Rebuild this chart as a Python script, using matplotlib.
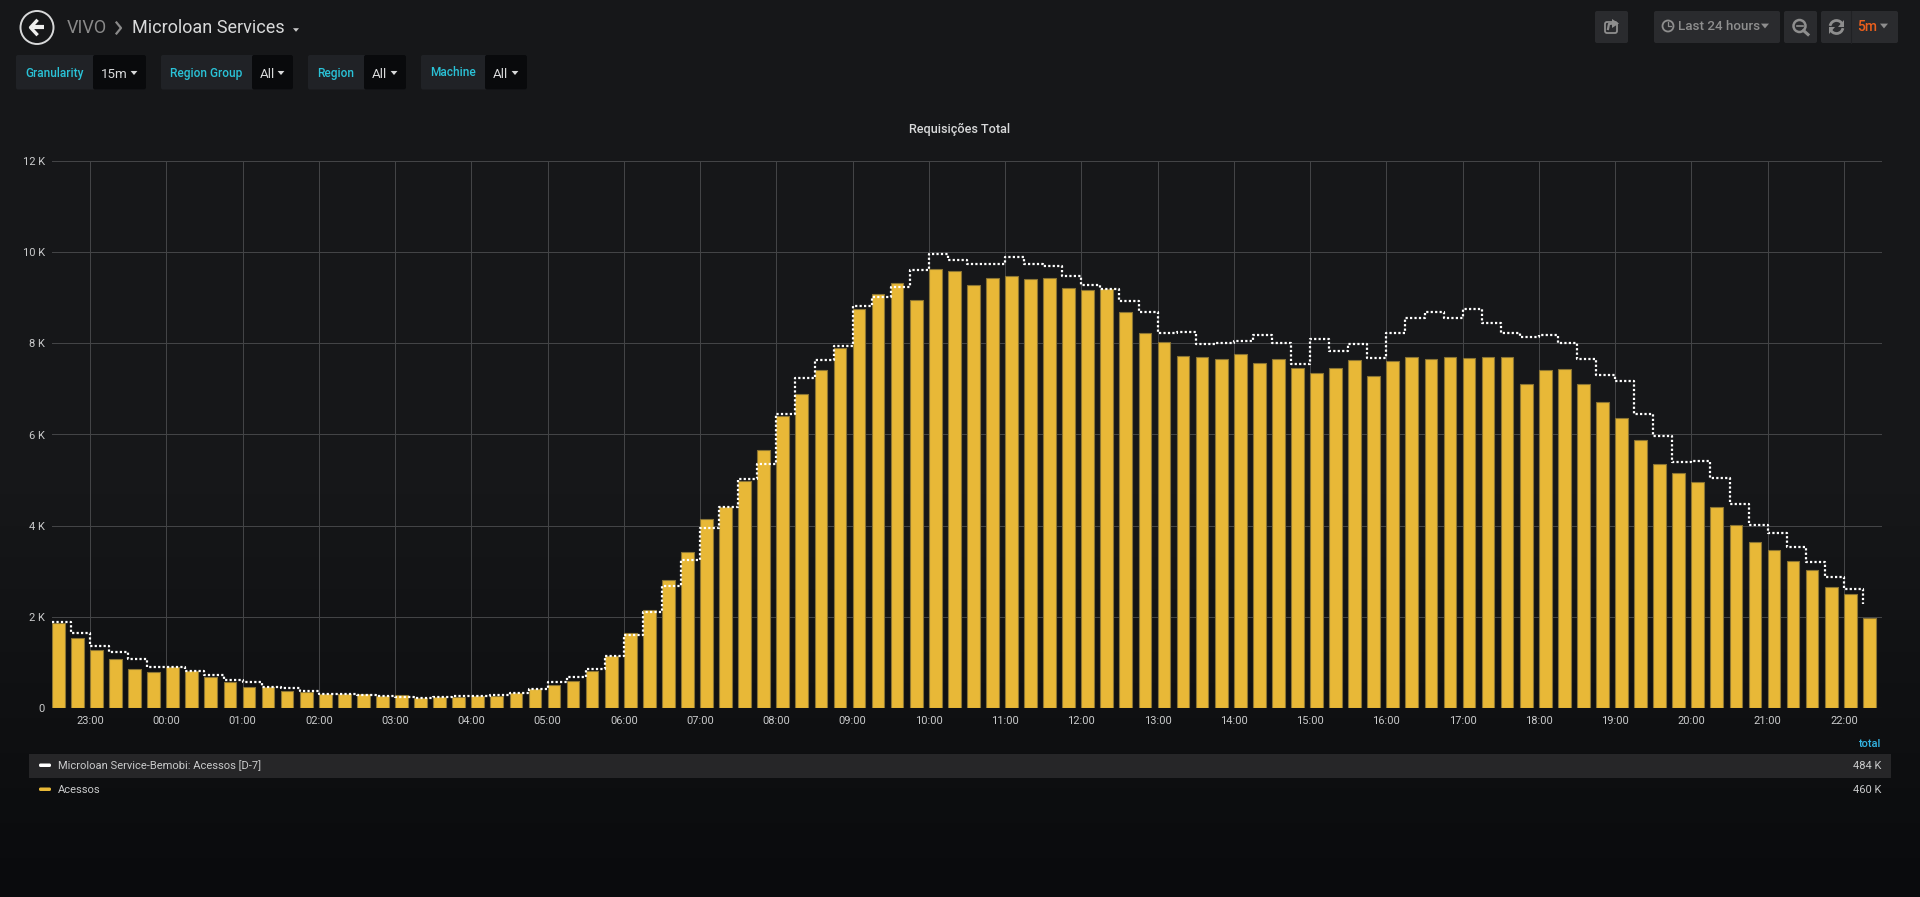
import matplotlib
matplotlib.use('Agg')
import matplotlib.pyplot as plt
import matplotlib.dates as mdates
import numpy as np
import pandas as pd
from matplotlib.colors import LinearSegmentedColormap
from matplotlib.patches import Arc, Circle, FancyBboxPatch, Polygon, Rectangle
from matplotlib.ticker import FuncFormatter

plt.rcParams['font.family'] = ['Roboto', 'DejaVu Sans']

W, H = 1920, 897

# 15 min buckets
start_time = '2019-01-01 22:30'
acessos = [
    1868, 1538, 1282, 1084, 864, 784, 901, 806, 681, 564,
    461, 461, 381, 344, 315, 315, 308, 271, 286, 227,
    234, 234, 256, 271, 322, 410, 513, 601, 813, 1150,
    1645, 2146, 2806, 3421, 4154, 4418, 4974, 5655, 6403, 6886,
    7414, 7905, 8762, 9077, 9319, 8945, 9634, 9582, 9282, 9436,
    9487, 9414, 9428, 9216, 9172, 9194, 8696, 8227, 8022, 7722,
    7707, 7648, 7758, 7560, 7650, 7451, 7341, 7458, 7626, 7289,
    7612, 7692, 7663, 7692, 7678, 7692, 7692, 7106, 7407, 7429,
    7106, 6703, 6359, 5890, 5363, 5150, 4952, 4400, 4015, 3641,
    3465, 3216, 3026, 2659, 2491, 1978,
]
acessos_d7 = [
    1890, 1648, 1370, 1223, 1077, 901, 908, 820, 725, 623,
    564, 454, 447, 381, 308, 308, 278, 264, 234, 220,
    249, 264, 271, 286, 337, 425, 571, 689, 857, 1150,
    1597, 2103, 2667, 3238, 3941, 4410, 5018, 5348, 6447, 7231,
    7641, 7934, 8820, 9026, 9245, 9604, 9956, 9831, 9736, 9743,
    9883, 9751, 9700, 9487, 9289, 9201, 8923, 8681, 8227, 8242,
    7985, 8000, 8059, 8183, 8000, 7546, 8095, 7839, 7978, 7678,
    8227, 8557, 8696, 8564, 8755, 8440, 8220, 8132, 8183, 8015,
    7663, 7311, 7165, 6447, 5978, 5407, 5414, 5048, 4465, 4015,
    3832, 3524, 3201, 2879, 2601, 2271,
]
y_ticks = [0, 2000, 4000, 6000, 8000, 10000, 12000]
legend_names = ['Microloan Service-Bemobi: Acessos [D-7]', 'Acessos']
legend_totals = ['484 K', '460 K']
variables = [('Granularity', '15m'), ('Region Group', 'All'), ('Region', 'All'), ('Machine', 'All')]

BAR = '#e8b837'
BAR_EDGE = '#8a7433'
GRID = '#434446'
TEXT = '#d8d9da'
TICK = '#cacbcc'
CYAN = '#2ac3d8'
BTN = '#2a2b2e'
GREY = '#8e8e8e'

fig = plt.figure(figsize=(W / 100, H / 100), dpi=100)

# page layer, in pixels
ui = fig.add_axes([0, 0, 1, 1])
ui.set_xlim(0, W)
ui.set_ylim(H, 0)
ui.axis('off')
page = LinearSegmentedColormap.from_list('page', [
    (0.0, '#161719'), (0.55, '#161719'), (0.8, '#0f1012'), (1.0, '#0a0b0d')])
ui.imshow(np.linspace(0, 1, 256)[:, None], cmap=page, aspect='auto', extent=(0, W, H, 0), zorder=0)


def box(x0, x1, y0, y1, color, rounding=2):
    ui.add_patch(FancyBboxPatch((x0, y0), x1 - x0, y1 - y0, boxstyle=f'round,pad=0,rounding_size={rounding}',
                                fc=color, ec='none', zorder=1))


def caret(x, y, color, size=4):
    ui.add_patch(Polygon([(x - size, y - size * 0.6), (x + size, y - size * 0.6), (x, y + size * 0.6)],
                         closed=True, fc=color, ec='none', zorder=3))


def label(x, y, s, size=8, color=TEXT, ha='left', weight='normal'):
    ui.text(x, y, s, fontsize=size, color=color, ha=ha, va='center', fontweight=weight, zorder=3)


# back button and breadcrumb
ui.add_patch(Circle((37, 27.5), 16.5, fc='none', ec='#d8d9da', lw=1.4, zorder=3))
ui.plot([33, 44], [27.5, 27.5], color='#eeeeee', lw=3, solid_capstyle='butt', zorder=3)
ui.plot([36.5, 30.5, 36.5], [21, 27.5, 34], color='#eeeeee', lw=2.4, zorder=3)
label(67, 28, 'VIVO', size=13, color='#8a8a8a')
ui.plot([116.5, 121, 116.5], [22.5, 28, 33.5], color='#8a8a8a', lw=1.6, zorder=3)
label(132, 28, 'Microloan Services', size=13, color=TEXT)
caret(296, 30, '#c8c8c8', size=3)

# template variables
var_boxes = [(16, 93, 146), (161, 252, 293), (308, 364, 406), (421, 485, 527)]
for (name, val), (x0, x1, x2) in zip(variables, var_boxes):
    box(x0, x2, 55, 89.5, '#202226')
    box(x1, x2, 55, 89.5, '#090a0c')
    label((x0 + x1) / 2, 73, name, size=8.6, color=CYAN, ha='center', weight='medium')
    label(x1 + 8, 74, val, size=9.6, color=TEXT)
    caret(x2 - 12, 73, '#d8d9da', size=3.4)

# toolbar
box(1595, 1628, 11, 43, BTN)
box(1654, 1780, 11, 43, BTN)
box(1784, 1817, 11, 43, BTN)
box(1821, 1898, 11, 43, BTN)
ui.plot([1851, 1851], [11, 43], color='#202124', lw=0.8, zorder=2)

ui.add_patch(FancyBboxPatch((1605, 22), 12, 11, boxstyle='round,pad=0,rounding_size=2', fc='none', ec=GREY, lw=1.3, zorder=3))
ui.add_patch(Polygon([(1612, 19), (1619, 23.5), (1612, 28)], closed=True, fc=GREY, ec='none', zorder=3))
ui.plot([1613, 1609, 1608], [23.5, 24, 29], color=GREY, lw=1.6, zorder=3)

ui.add_patch(Circle((1668, 26), 5.5, fc='none', ec=GREY, lw=1.3, zorder=3))
ui.plot([1668, 1668, 1671], [22.5, 26.5, 26.5], color=GREY, lw=0.9, zorder=3)
label(1678, 27, 'Last 24 hours', size=9.6, color=GREY, weight='medium')
caret(1765, 26, GREY, size=4)

ui.add_patch(Circle((1799.5, 26), 6, fc='none', ec=GREY, lw=1.8, zorder=3))
ui.plot([1803.5, 1808], [30.5, 34.5], color=GREY, lw=2.2, zorder=3)
ui.plot([1796.5, 1802.5], [26, 26], color=GREY, lw=1.2, zorder=3)

ui.add_patch(Arc((1836.5, 27), 13, 13, theta1=190, theta2=340, ec=GREY, lw=2, zorder=3))
ui.add_patch(Arc((1836.5, 27), 13, 13, theta1=10, theta2=160, ec=GREY, lw=2, zorder=3))
ui.add_patch(Polygon([(1844, 20), (1844, 27), (1838, 27)], closed=True, fc=GREY, ec='none', zorder=3))
ui.add_patch(Polygon([(1829, 34), (1829, 27), (1835, 27)], closed=True, fc=GREY, ec='none', zorder=3))
label(1857, 27, '5m', size=10, color='#eb5f1c', weight='medium')
caret(1884, 26, GREY, size=4)

label(960, 129.5, 'Requisições Total', size=9.1, color=TEXT, ha='center', weight='medium')

# legend
ui.add_patch(Rectangle((29, 754), 1891 - 29, 24, fc='#262628', ec='none', zorder=1))
for y, name, total, col in zip([766, 790], legend_names, legend_totals, ['#ffffff', BAR]):
    ui.add_patch(FancyBboxPatch((39, y - 2.5), 12, 3.5, boxstyle='round,pad=0,rounding_size=1.5', fc=col, ec='none', zorder=3))
    label(58, y, name, size=8, color=TICK)
    label(1881, y, total, size=8, color=TICK, ha='right')
label(1881, 744, 'total', size=8, color='#33b5e5', ha='right', weight='medium')

# chart
ax = fig.add_axes([52 / W, 1 - 708 / H, (1882 - 52) / W, (708 - 161) / H])
ax.patch.set_alpha(0)
times = pd.date_range(start_time, periods=len(acessos), freq='15min')
width = pd.Timedelta(minutes=10) / pd.Timedelta(days=1)
ax.bar(times, acessos, width=width, align='edge', color=BAR, edgecolor=BAR_EDGE, linewidth=0.8, zorder=2)
ax.plot(times, acessos_d7, color='white', lw=1.6, drawstyle='steps-post', dashes=(1, 1),
        dash_capstyle='butt', zorder=3)

ax.set_xlim(times[0], times[0] + pd.Timedelta(hours=24))
ax.set_ylim(0, 12000)
ax.set_yticks(y_ticks)
ax.yaxis.set_major_formatter(FuncFormatter(lambda v, pos: '0' if v == 0 else f'{v / 1000:.0f} K'))
ax.xaxis.set_major_locator(mdates.HourLocator())
ax.xaxis.set_major_formatter(mdates.DateFormatter('%H:%M'))
ax.tick_params(axis='x', length=0, labelsize=8, labelcolor=TICK, pad=6)
ax.tick_params(axis='y', length=0, labelsize=8, labelcolor=TICK, pad=5)
ax.grid(True, color=GRID, lw=0.75)
ax.set_axisbelow(True)
for side in ax.spines.values():
    side.set_visible(False)

fig.savefig('out.png', dpi=100, facecolor='#161719')
